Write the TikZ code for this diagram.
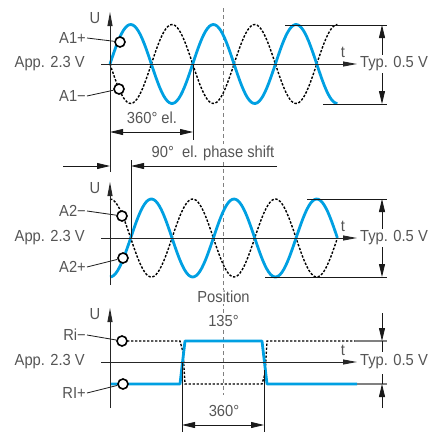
\documentclass[tikz,border=0pt]{standalone}
\usepackage{fontspec}
\setmainfont[FakeStretch=0.92]{Liberation Sans}
\usepackage{tikz}
\usetikzlibrary{arrows.meta,positioning,calc}
\definecolor{sigblue}{RGB}{0,160,226}
\definecolor{txtgray}{RGB}{85,85,85}

\begin{document}
\begin{tikzpicture}[x=1pt, y=-1pt,
   font=\fontsize{16}{18}\selectfont, text=txtgray,
   axis/.style = {draw=black!85, line width=0.9pt, -{Triangle[length=14pt,width=5pt]}},
   wave/.style = {sigblue, line width=2.8pt, line join=round},
   inv/.style = {black, line width=1.4pt, dash pattern=on 2.4pt off 1.6pt},
   dim/.style = {black!90, line width=0.8pt},
   tip/.style = {dim, -{Triangle[length=13pt,width=6pt]}},
   dimarrow/.style = {dim, {Triangle[length=13pt,width=6pt]}-{Triangle[length=13pt,width=6pt]}},
   pin/.style = {circle, draw=black, fill=white, line width=1.6pt,
                 minimum size=10pt, inner sep=0pt},
   lbl/.style = {anchor=east, inner sep=1pt},
   cut/.style = {fill=white, inner sep=1.5pt}]
   \useasboundingbox (0,0) rectangle (440,432);

   % position mark
   \draw[gray, line width=1.3pt, dash pattern=on 4pt off 3pt] (223.5,8) -- (223.5,395);

   % channel A1
   \draw[inv]  plot[domain=110:337.4, samples=120] (\x, {64+39.5*sin((\x-110)/82.7*360)});
   \draw[wave] plot[domain=110:337.4, samples=120] (\x, {64-39.5*sin((\x-110)/82.7*360)});
   % channel A2
   \draw[inv]  plot[domain=110:337.4, samples=120] (\x, {238-39*cos((\x-110)/82.7*360)});
   \draw[wave] plot[domain=110:337.4, samples=120] (\x, {238+39*cos((\x-110)/82.7*360)});
   % reference pulse
   \draw[inv]  (127,341) -- (180,341) -- (183,352) -- (185,384) -- (262,384)
               -- (265,374) -- (267,341) -- (355,341);
   \draw[wave] (110,384) -- (180,384) -- (185,341) -- (262,341) -- (267,384) -- (357,384);

   % 360 deg el.
   \coordinate (per1) at (193,64);
   \draw[dim] (per1) -- ++(0,76) coordinate (per1b);
   \draw[dimarrow] (110,132) -- (193,132);
   \node (el360) at (152,118) {360° el.};

   % 90 deg phase shift
   \coordinate (sh0) at (110,166);
   \coordinate (sh1) at (131,166);
   \draw[dim] (131,160) -- (131,238);
   \draw[tip] (63,166) -- (sh0);
   \draw[tip] (277,166) -- (sh1);
   \node[cut] (shift) at (213,153) {90°\ \ el. phase shift};

   % amplitude A1, A2
   \draw[dim] (285,25) -- (387,25);
   \draw[dim] (323,104) -- (387,104);
   \draw[dimarrow] (382,25) -- (382,104);
   \draw[dim] (307,199) -- (387,199);
   \draw[dim] (265,277) -- (387,277);
   \draw[dimarrow] (382,199) -- (382,277);
   % amplitude Ri
   \draw[gray, line width=1.2pt] (355,341) -- (387,341);
   \draw[gray, line width=1.2pt] (357,384) -- (387,384);
   \draw[tip] (382,313) -- (382,341);
   \draw[dim] (382,341) -- (382,352);
   \draw[tip] (382,408) -- (382,384);
   \draw[dim] (382,384) -- (382,374);

   % 360 deg of the pulse
   \draw[dim] (182,363) -- (182,432);
   \draw[dim] (264,370) -- (264,432);
   \draw[dimarrow] (182,425) -- (264,425);
   \node (deg360) at (224,411) {360°};

   \node[cut] (pos) at (223.5,297) {Position};
   \node[cut] (pos135) at (223.5,321) {135°};

   % pins and their labels
   \node[pin] (ca1p) at (120,42) {};
   \node[pin] (ca1m) at (119,89) {};
   \node[pin] (ca2m) at (122,216) {};
   \node[pin] (ca2p) at (123,258) {};
   \node[pin] (crim) at (122,341) {};
   \node[pin] (crip) at (123,384) {};
   \node[lbl] (la1p) at (87,38)  {A1+};
   \node[lbl] (la1m) at (87,96)  {A1−};
   \node[lbl] (la2m) at (87,211) {A2−};
   \node[lbl] (la2p) at (87,267) {A2+};
   \node[lbl] (lrim) at (87,335) {Ri−};
   \node[lbl] (lrip) at (87,393) {RI+};
   \foreach \l/\c in {la1p/ca1p, la1m/ca1m, la2m/ca2m, la2p/ca2p, lrim/crim, lrip/crip}
     \draw[dim] (\l.east) -- (\c);

   % axes
   \foreach \p/\ay/\top/\bot in {1/64/12/172, 2/238/182/285, 3/362/308/408} {
     \coordinate (o\p) at (110,\ay);
     \draw[axis] (101,\ay) -- (357,\ay);
     \draw[axis] (110,\bot) -- (110,\top);
     \node (u\p) at (95,\top+6) {U};
     \node[lbl] (app\p) at (86,\ay) {App. 2.3 V};
     \node (t\p) at (343,\ay-12) {t};
     \node[cut] (typ\p) at (394,\ay) {Typ. 0.5 V};
   }
\end{tikzpicture}
\end{document}
